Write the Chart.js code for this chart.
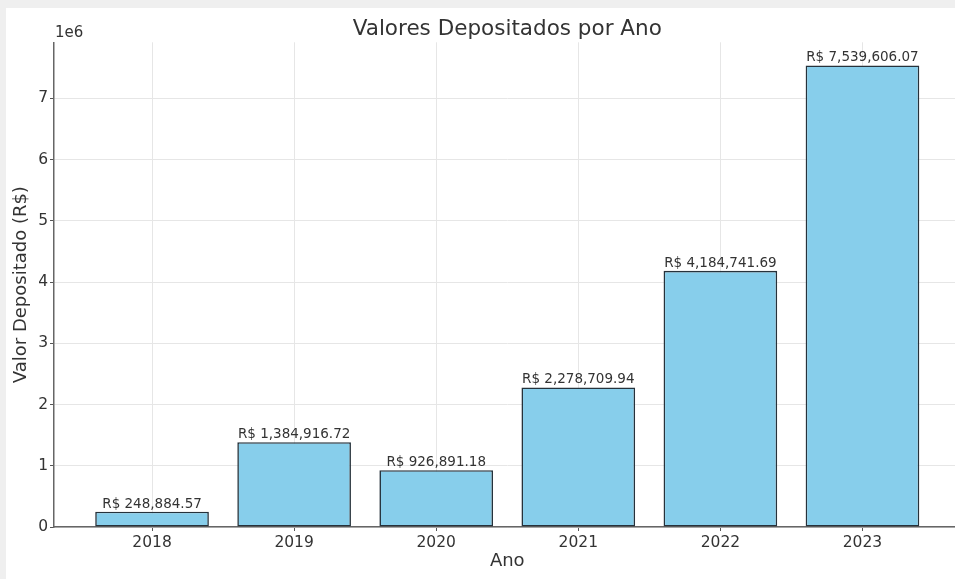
<!DOCTYPE html>
<html lang="pt">
<head>
  <meta charset="UTF-8" />
  <title>Valores Depositados por Ano</title>
  <script src="https://cdn.jsdelivr.net/npm/chart.js@4.4.1/dist/chart.umd.min.js"></script>
  <style>
    html, body { margin: 0; padding: 0; background: #efefef; overflow: hidden; width: 955px; height: 579px; }
    #painel { position: absolute; left: 6px; top: 8px; width: 959px; height: 571px; background: #fff; }
  </style>
</head>
<body>
  <div id="painel">
    <canvas id="graficoAnos" width="959" height="571"></canvas>
  </div>

<script>
// dados do gráfico
const anos = ["2018", "2019", "2020", "2021", "2022", "2023"];
const valores = [248884.57, 1384916.72, 926891.18, 2278709.94, 4184741.69, 7539606.07];
const yTicks = [0, 1, 2, 3, 4, 5, 6, 7];

const fonte = "'DejaVu Sans', sans-serif";
const corTexto = "#333";

function formatarBRL(v) {
  return "R$ " + v.toLocaleString("en-US", { minimumFractionDigits: 2, maximumFractionDigits: 2 });
}

// rótulos em cima das barras + "1e6"
const rotulos = {
  id: "rotulos",
  afterDatasetsDraw(chart) {
    const ctx = chart.ctx;
    const meta = chart.getDatasetMeta(0);
    ctx.save();
    ctx.font = "13.5px " + fonte;
    ctx.fillStyle = corTexto;
    ctx.textAlign = "center";
    ctx.textBaseline = "bottom";
    meta.data.forEach((bar, i) => {
      ctx.fillText(formatarBRL(valores[i]), bar.x, bar.y - 1);
    });
    ctx.font = "15px " + fonte;
    ctx.textAlign = "left";
    ctx.textBaseline = "middle";
    ctx.fillText("1e6", chart.chartArea.left + 1, chart.chartArea.top - 9);
    ctx.restore();
  }
};

const maxY = Math.max(...valores) * 1.05;

new Chart(document.getElementById("graficoAnos"), {
  type: "bar",
  data: {
    datasets: [{
      label: "Valor Depositado",
      data: valores.map((v, i) => ({ x: i, y: v })),
      backgroundColor: "#87ceeb",
      borderColor: "#26323b",
      borderWidth: 1.6,
      borderSkipped: false,
      barPercentage: 0.8,
      categoryPercentage: 1.0
    }]
  },
  options: {
    responsive: false,
    animation: false,
    layout: { padding: { left: 0, right: 4.5, top: 0, bottom: 0 } },
    plugins: {
      legend: { display: false },
      tooltip: { enabled: false },
      title: {
        display: true,
        fullSize: false,
        text: "Valores Depositados por Ano",
        color: corTexto,
        font: { family: fonte, size: 21.5, weight: "normal", lineHeight: 1.2 },
        padding: { top: 8.5, bottom: 0 }
      }
    },
    scales: {
      x: {
        type: "linear",
        offset: false,
        min: -0.69,
        max: anos.length - 1 + 0.69,
        afterBuildTicks: s => { s.ticks = anos.map((a, i) => ({ value: i })); },
        afterFit: s => { s.height = 52; },
        ticks: {
          callback: v => anos[v],
          color: corTexto,
          font: { family: fonte, size: 15.5 },
          padding: 3,
          maxRotation: 0
        },
        grid: { offset: false, color: "#e6e6e6", tickColor: "#555", tickLength: 4 },
        border: { color: "#666", width: 1.5 },
        title: {
          display: true,
          text: "Ano",
          color: corTexto,
          font: { family: fonte, size: 18, lineHeight: 1.2 },
          padding: { top: 0, bottom: 7 }
        }
      },
      y: {
        min: 0,
        max: maxY,
        afterBuildTicks: s => { s.ticks = yTicks.map(t => ({ value: t * 1e6 })); },
        afterFit: s => { s.width = 48; },
        ticks: {
          callback: v => v / 1e6,
          color: corTexto,
          font: { family: fonte, size: 15.5 },
          padding: 2
        },
        grid: { color: "#e6e6e6", tickColor: "#555", tickLength: 4 },
        border: { color: "#666", width: 1.5 },
        title: {
          display: true,
          text: "Valor Depositado (R$)",
          color: corTexto,
          font: { family: fonte, size: 18, lineHeight: 1.2 },
          padding: { top: 5, bottom: 0 }
        }
      }
    }
  },
  plugins: [rotulos]
});
</script>
</body>
</html>
